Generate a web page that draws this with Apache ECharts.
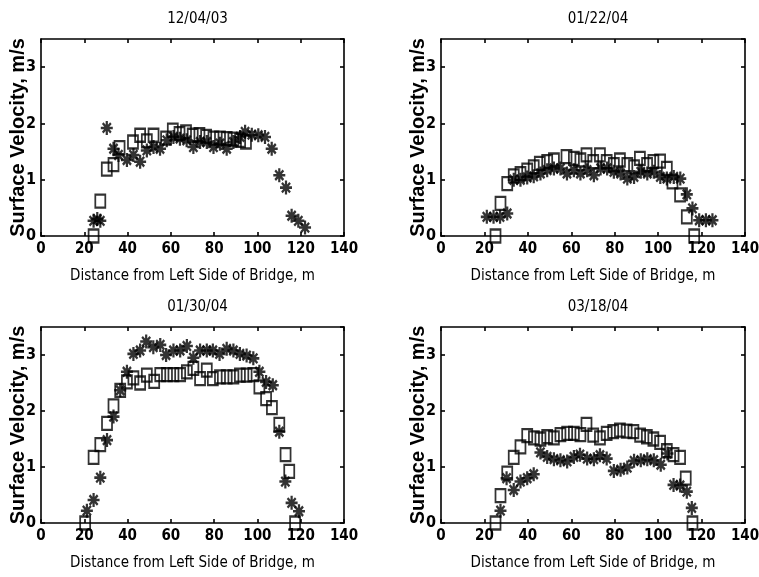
<!DOCTYPE html>
<html>
<head>
<meta charset="utf-8">
<script src="https://cdn.jsdelivr.net/npm/echarts@6/dist/echarts.min.js"></script>
<style>
  html, body { margin: 0; padding: 0; background: #fff; }
  #main { width: 759px; height: 577px; }
</style>
</head>
<body>
<div id="main"></div>
<script>
// panel titles (dates)
var titles = ['12/04/03', '01/22/04', '01/30/04', '03/18/04'];
var xTicks = [0, 20, 40, 60, 80, 100, 120, 140];

// [distance m, velocity m/s] - squares
var sq1 = [[24.3,0],[27.4,0.62],[30.4,1.19],[33.5,1.27],[36.3,1.57],[42.5,1.67],[45.8,1.79],[48.9,1.69],[52,1.79],[57.8,1.74],[60.9,1.88],[64,1.82],[67,1.85],[70.1,1.79],[73.2,1.8],[76.3,1.77],[79.7,1.74],[82.7,1.74],[85.8,1.73],[88.9,1.72],[92,1.7],[94.7,1.67]];
var sq2 = [[25.1,0],[27.4,0.58],[30.5,0.93],[33.5,1.07],[36.6,1.11],[39.7,1.17],[42.7,1.23],[45.5,1.29],[48.9,1.32],[52,1.35],[57.8,1.41],[61.2,1.38],[64.2,1.35],[67,1.44],[70.1,1.32],[73.2,1.44],[76.3,1.32],[79.6,1.27],[82.4,1.35],[85.8,1.27],[88.9,1.23],[91.6,1.38],[94.9,1.27],[97.8,1.32],[100.9,1.33],[104,1.2],[106.6,0.96],[110.1,0.73],[113.2,0.34],[116.6,0]];
var sq3 = [[20.4,0],[24.3,1.17],[27.4,1.4],[30.5,1.78],[33.5,2.09],[36.6,2.37],[39.7,2.52],[42.7,2.59],[45.8,2.5],[48.9,2.64],[52.3,2.53],[55.1,2.65],[58.2,2.65],[61.2,2.65],[64.3,2.65],[67.4,2.7],[70.4,2.76],[73.5,2.58],[76.6,2.73],[79.4,2.58],[82.7,2.61],[85.8,2.61],[88.9,2.61],[91.9,2.64],[95,2.64],[98.1,2.65],[100.9,2.43],[104,2.22],[106.7,2.06],[110.1,1.76],[113,1.22],[114.7,0.92],[117.4,0]];
var sq4 = [[25.1,0],[27.4,0.49],[30.5,0.89],[33.5,1.17],[36.6,1.36],[39.7,1.56],[42.8,1.52],[45.8,1.5],[48.9,1.54],[52,1.52],[55,1.58],[58.1,1.6],[61.2,1.6],[64.2,1.58],[67,1.76],[70.1,1.57],[73.2,1.52],[76.3,1.6],[79.3,1.63],[82.4,1.66],[85.5,1.64],[88.6,1.63],[91.7,1.57],[94.8,1.54],[97.8,1.5],[100.9,1.44],[104,1.29],[107.1,1.22],[110.1,1.17],[112.7,0.8],[115.8,0]];

// asterisks
var st1 = [[24.3,0.27],[26,0.3],[27.4,0.27],[30.4,1.92],[33.5,1.55],[35.8,1.44],[39.7,1.35],[42.7,1.44],[45.8,1.32],[48.9,1.52],[52,1.58],[55,1.55],[58.1,1.7],[61.2,1.76],[64.2,1.73],[67.3,1.7],[70.4,1.58],[73.5,1.67],[76.6,1.67],[79.7,1.58],[82.7,1.64],[85.8,1.55],[88.9,1.67],[92,1.76],[94.3,1.85],[97.4,1.8],[100.4,1.79],[103.5,1.76],[106.6,1.55],[110.1,1.08],[113.2,0.86],[115.8,0.36],[118.9,0.27],[122,0.15]];
var st2 = [[21.1,0.34],[24.2,0.34],[27.2,0.34],[30.5,0.4],[33.5,1.0],[36.6,1.0],[39.7,1.04],[42.7,1.06],[45.8,1.11],[48.9,1.17],[52,1.2],[55,1.2],[58,1.11],[61.2,1.17],[64.2,1.11],[67.3,1.17],[70.4,1.08],[73.5,1.2],[76.5,1.2],[79.6,1.14],[82.7,1.11],[85.8,1.02],[88.9,1.05],[92,1.14],[95,1.11],[98,1.14],[101,1.05],[104,1.02],[107.2,1.05],[110.2,1.02],[113.2,0.74],[115.8,0.49],[118.9,0.28],[122,0.28],[125,0.28]];
var st3 = [[21.2,0.22],[24.3,0.41],[27.4,0.81],[30.5,1.48],[33.5,1.9],[36.6,2.37],[39.7,2.7],[42.7,3.02],[45.8,3.08],[48.6,3.24],[51.9,3.14],[55.1,3.18],[57.8,3.0],[61.2,3.08],[64.3,3.08],[67.4,3.16],[70.4,2.95],[73.5,3.08],[76.6,3.08],[79.4,3.08],[82.5,3.02],[85.8,3.11],[88.9,3.08],[91.9,3.02],[95,2.99],[98.1,2.94],[100.9,2.7],[104,2.52],[107.1,2.46],[110.1,1.63],[112.9,0.74],[115.8,0.36],[119.2,0.21]];
var st4 = [[27.4,0.22],[30.2,0.8],[33.5,0.59],[36.6,0.74],[39.7,0.8],[42.7,0.87],[45.8,1.26],[48.9,1.18],[52,1.14],[55,1.12],[58.1,1.1],[61.2,1.18],[64,1.22],[67.3,1.15],[70.4,1.14],[73.2,1.21],[76.3,1.15],[79.6,0.93],[82.7,0.95],[85.8,0.99],[88.9,1.11],[92,1.12],[95,1.14],[98,1.12],[101.2,1.04],[104.3,1.24],[107.1,0.68],[110.1,0.67],[113.2,0.56],[115.5,0.27]];

var squares = [sq1, sq2, sq3, sq4];
var stars = [st1, st2, st3, st4];

var FONT = '"Liberation Sans Narrow", "DejaVu Sans Condensed", "Liberation Sans", Arial, sans-serif';
var boxes = [
  {left: 41, top: 39, width: 303, height: 197},
  {left: 441, top: 39, width: 304, height: 197},
  {left: 41, top: 327, width: 303, height: 196},
  {left: 441, top: 327, width: 304, height: 196}
];
var asterisk = 'path://M5 0L5 10M0 5L10 5M1.6 1.6L8.4 8.4M8.4 1.6L1.6 8.4';

var myChart = echarts.init(document.getElementById('main'));

var grid = [], xAxis = [], yAxis = [], series = [], title = [];
var lineStyle = {color: '#000', width: 1.6};

for (var i = 0; i < 4; i++) {
  var b = boxes[i];
  grid.push({left: b.left, top: b.top, width: b.width, height: b.height, outerBoundsMode: 'none', containLabel: false});
  title.push({
    text: titles[i],
    left: b.left + b.width / 2,
    top: i < 2 ? 7 : 295,
    textAlign: 'center',
    textStyle: {fontFamily: FONT, fontSize: 15, fontWeight: 'normal', color: '#000'}
  });

  // bottom / left axes with labels
  xAxis.push({
    gridIndex: i, type: 'value', min: 0, max: 140, interval: 20,
    name: 'Distance from Left Side of Bridge, m',
    nameLocation: 'middle', nameGap: 33, nameMoveOverlap: false,
    nameTextStyle: {fontFamily: FONT, fontSize: 15, color: '#000'},
    axisLine: {show: true, onZero: false, lineStyle: lineStyle},
    axisTick: {show: true, inside: true, length: 4, lineStyle: lineStyle},
    axisLabel: {fontFamily: FONT, fontSize: 15, fontWeight: 'bold', color: '#000', margin: 6,
      formatter: function (v) { return xTicks.indexOf(v) >= 0 ? String(v) : ''; }},
    splitLine: {show: false}
  });
  yAxis.push({
    gridIndex: i, type: 'value', min: 0, max: 3.5, interval: 1,
    name: 'Surface Velocity, m/s',
    nameLocation: 'middle', nameGap: 13, nameMoveOverlap: false,
    nameTextStyle: {fontFamily: '"Liberation Sans", Arial, sans-serif', fontSize: 20, fontWeight: 'bold', color: '#000'},
    axisLine: {show: true, onZero: false, lineStyle: lineStyle},
    axisTick: {show: true, inside: true, length: 4, lineStyle: lineStyle},
    axisLabel: {fontFamily: FONT, fontSize: 16, fontWeight: 'bold', color: '#000', margin: 5, showMaxLabel: false},
    splitLine: {show: false}
  });
}
// top / right box edges with inward ticks
for (var j = 0; j < 4; j++) {
  xAxis.push({
    gridIndex: j, type: 'value', position: 'top', min: 0, max: 140, interval: 20,
    axisLine: {show: true, onZero: false, lineStyle: lineStyle},
    axisTick: {show: true, inside: true, length: 4, lineStyle: lineStyle},
    axisLabel: {show: false}, splitLine: {show: false}
  });
  yAxis.push({
    gridIndex: j, type: 'value', position: 'right', min: 0, max: 3.5, interval: 1,
    axisLine: {show: true, onZero: false, lineStyle: lineStyle},
    axisTick: {show: true, inside: true, length: 4, lineStyle: lineStyle},
    axisLabel: {show: false}, splitLine: {show: false}
  });
}

for (var k = 0; k < 4; k++) {
  series.push({
    type: 'scatter', xAxisIndex: k, yAxisIndex: k,
    symbol: 'rect', symbolSize: [10, 13],
    itemStyle: {color: 'rgba(0,0,0,0)', borderColor: '#000', borderWidth: 2},
    data: squares[k]
  });
  series.push({
    type: 'scatter', xAxisIndex: k, yAxisIndex: k,
    symbol: asterisk, symbolSize: [12, 14],
    itemStyle: {color: '#000', borderColor: '#000', borderWidth: 2.4},
    data: stars[k]
  });
}

var option = {
  animation: false,
  backgroundColor: '#fff',
  title: title,
  grid: grid,
  xAxis: xAxis,
  yAxis: yAxis,
  series: series
};

myChart.setOption(option);
</script>
</body>
</html>
